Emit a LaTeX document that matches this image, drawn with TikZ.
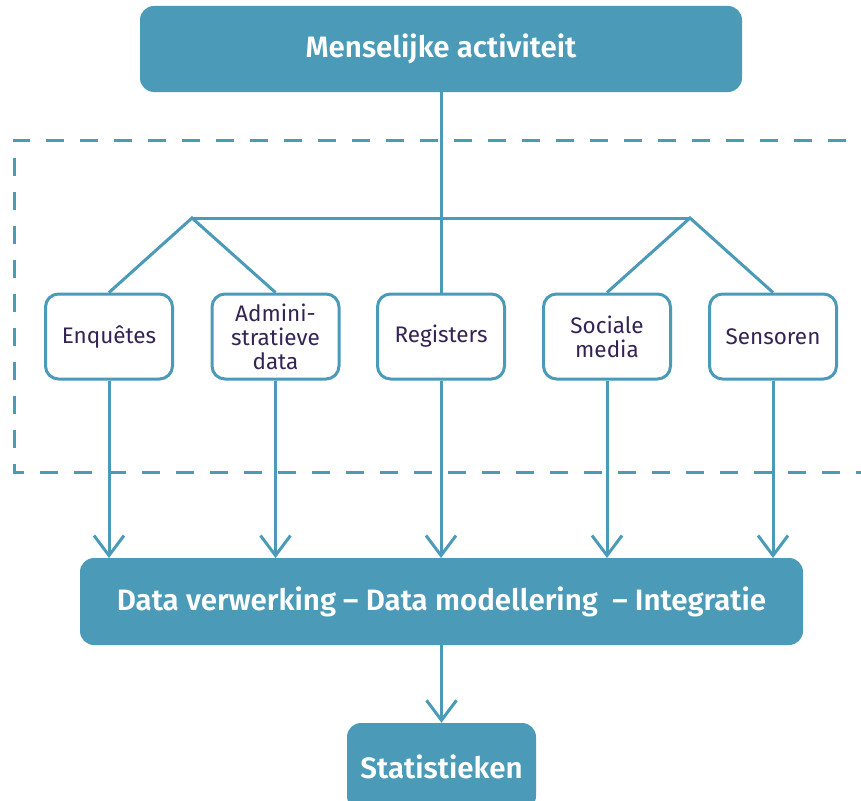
\documentclass[tikz,border=0pt]{standalone}
\usepackage{fontspec}
\setmainfont{Fira Sans}[BoldFont={Fira Sans SemiBold}]
\usetikzlibrary{arrows.meta}
\definecolor{teal}{RGB}{74,154,184}
\definecolor{ink}{RGB}{52,36,84}
\tikzset{
  bigbox/.style={draw=none, fill=teal, rounded corners=14pt, text=white, font=\fontsize{29.5}{32}\selectfont\bfseries, inner sep=0pt},
  srcbox/.style={draw=teal, line width=3pt, fill=white, rounded corners=13pt, text=ink, font=\fontsize{22.5}{24}\selectfont, align=center, inner sep=0pt, minimum width=127pt, minimum height=85pt},
  link/.style={draw=teal, line width=3pt},
  arr/.style={link, -{Straight Barb[length=20pt,width=30pt,line width=3pt]}},
  frame/.style={draw=teal, line width=3pt, dash pattern=on 18pt off 16pt}
}
\begin{document}
\begin{tikzpicture}[x=1pt,y=-1pt]
\useasboundingbox (0,0) rectangle (861,800);
\draw[frame] (880,140) -- (14,140) -- (14,472) -- (880,472);
\node[bigbox, minimum width=602pt, minimum height=86pt] (top) at (441,49) {Menselijke activiteit};
\node[srcbox] (enq) at (109,336.5) {Enquêtes};
\node[srcbox] (adm) at (275.5,336.5) {Admini-\\stratieve\\data};
\node[srcbox] (reg) at (441,336.5) {Registers};
\node[srcbox] (soc) at (607,336.5) {Sociale\\media};
\node[srcbox] (sen) at (773,336.5) {Sensoren};
\coordinate (jl) at (192,218);
\coordinate (jr) at (690,218);
\draw[link] (top.south) -- (reg.north);
\draw[link] (jl) -- (jr);
\draw[link] (enq.north) -- (jl) -- (adm.north);
\draw[link] (soc.north) -- (jr) -- (sen.north);
\node[bigbox, minimum width=723pt, minimum height=87pt] (proc) at (441.5,601.5) {Data verwerking – Data modellering \ – Integratie};
\node[bigbox, minimum width=189pt, minimum height=87pt] (stat) at (441.5,766.5) {Statistieken};
\foreach \s/\x in {enq/109,adm/275.5,reg/441,soc/607,sen/773}
  \draw[arr] (\s.south) -- (\x,558);
\draw[arr] (proc.south) -- (stat.north);
\end{tikzpicture}
\end{document}
